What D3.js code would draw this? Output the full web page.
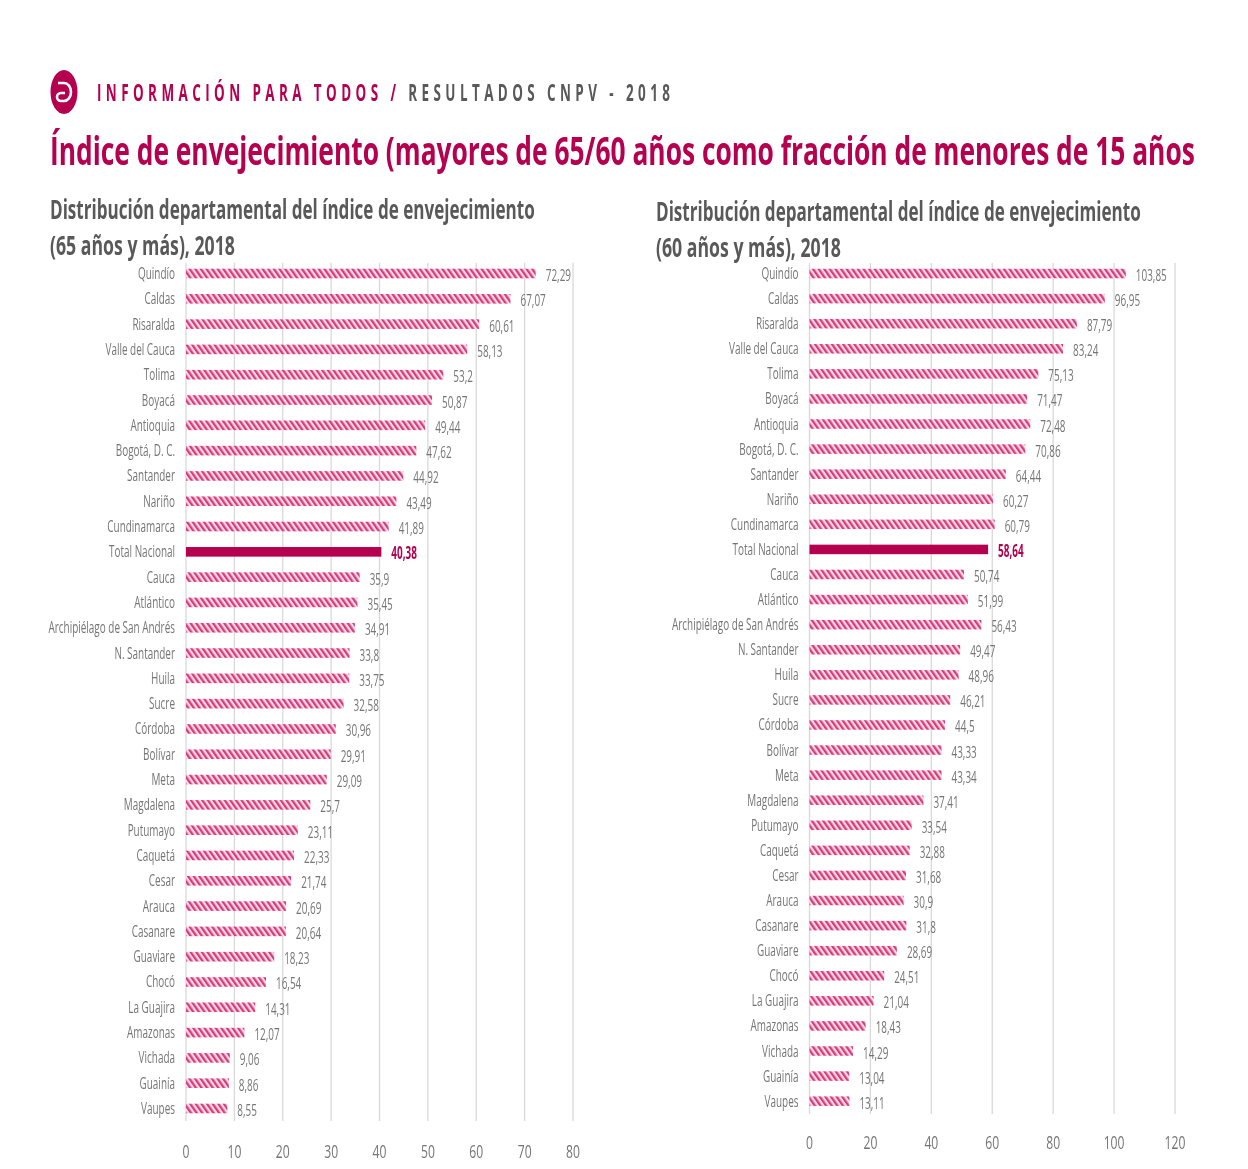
<!DOCTYPE html>
<html><head><meta charset="utf-8">
<script src="https://cdn.jsdelivr.net/npm/d3@7"></script>
<style>html,body{margin:0;padding:0;background:#fff}svg{display:block;filter:blur(0.5px)}text{font-family:"Open Sans",sans-serif}</style>
</head><body><svg id="c" width="1248" height="1169"></svg>
<script>
const categoriesLeft=["Quindío","Caldas","Risaralda","Valle del Cauca","Tolima","Boyacá","Antioquia","Bogotá, D. C.","Santander","Nariño","Cundinamarca","Total Nacional","Cauca","Atlántico","Archipiélago de San Andrés","N. Santander","Huila","Sucre","Córdoba","Bolívar","Meta","Magdalena","Putumayo","Caquetá","Cesar","Arauca","Casanare","Guaviare","Chocó","La Guajira","Amazonas","Vichada","Guainía","Vaupes"];
const values65=[72.29,67.07,60.61,58.13,53.2,50.87,49.44,47.62,44.92,43.49,41.89,40.38,35.9,35.45,34.91,33.8,33.75,32.58,30.96,29.91,29.09,25.7,23.11,22.33,21.74,20.69,20.64,18.23,16.54,14.31,12.07,9.06,8.86,8.55];
const values60=[103.85,96.95,87.79,83.24,75.13,71.47,72.48,70.86,64.44,60.27,60.79,58.64,50.74,51.99,56.43,49.47,48.96,46.21,44.5,43.33,43.34,37.41,33.54,32.88,31.68,30.9,31.8,28.69,24.51,21.04,18.43,14.29,13.04,13.11];
const ticksLeft=[0,10,20,30,40,50,60,70,80];
const ticksRight=[0,20,40,60,80,100,120];
const CRIMSON="#b5004f",GREY="#595959",LABEL="#757575";
const svg=d3.select("#c");
const defs=svg.append("defs");
const pat=defs.append("pattern").attr("id","hatch").attr("patternUnits","userSpaceOnUse").attr("width",4.6).attr("height",4.6).attr("patternTransform","rotate(-35)");
pat.append("rect").attr("width",4.6).attr("height",4.6).attr("fill","#f9dbe6");
pat.append("rect").attr("width",2.3).attr("height",4.6).attr("fill","#d83a7c");

function squeezed(g,x,y,str,opt){
  const sx=opt.sx||0.72;
  const t=g.append("text").attr("transform",`translate(${x},${y}) scale(${sx},1)`)
    .attr("text-anchor",opt.anchor||"start").attr("font-size",opt.size).attr("font-weight",opt.weight||400).attr("fill",opt.fill).text(str);
  if(opt.ls)t.attr("letter-spacing",opt.ls);
  return t;
}
// header
const logo=svg.append("g").attr("transform","translate(64,92)");
logo.append("ellipse").attr("rx",13.5).attr("ry",22).attr("fill",CRIMSON);
logo.append("path").attr("d","M-6,-9 H0 A7,9 0 0 1 0,9 H-3 A4,4 0 0 1 -3,1 H1").attr("fill","none").attr("stroke","#fff").attr("stroke-width",2.6);
const h=squeezed(svg,97,101,"INFORMACIÓN PARA TODOS / ",{size:24,weight:700,fill:CRIMSON,sx:0.56,ls:"7.9px"});
h.append("tspan").attr("fill",GREY).text("RESULTADOS CNPV - 2018");
squeezed(svg,50,165,"Índice de envejecimiento (mayores de 65/60 años como fracción de menores de 15 años",{size:40,weight:700,fill:CRIMSON,sx:0.659});
squeezed(svg,50,218.5,"Distribución departamental del índice de envejecimiento",{size:27,weight:700,fill:GREY,sx:0.632});
squeezed(svg,50,255,"(65 años y más), 2018",{size:27,weight:700,fill:GREY,sx:0.655});
squeezed(svg,656,220.5,"Distribución departamental del índice de envejecimiento",{size:27,weight:700,fill:GREY,sx:0.632});
squeezed(svg,656,257,"(60 años y más), 2018",{size:27,weight:700,fill:GREY,sx:0.655});

function panel(cfg){
  const x=d3.scaleLinear().domain(cfg.domain).range(cfg.xr);
  const y=d3.scaleBand().domain(categoriesLeft).range(cfg.yr).paddingInner(0.62).paddingOuter(0.31);
  const g=svg.append("g");
  g.selectAll("line.grid").data(cfg.ticks).join("line").attr("class","grid")
    .attr("x1",d=>x(d)).attr("x2",d=>x(d)).attr("y1",cfg.yr[0]+2).attr("y2",cfg.gridEnd).attr("stroke","#d9d9d9").attr("stroke-width",1.3);
  g.selectAll("rect.bar").data(cfg.values).join("rect").attr("class","bar")
    .attr("x",x(0)).attr("y",(d,i)=>y(categoriesLeft[i])).attr("width",d=>x(d)-x(0)).attr("height",y.bandwidth())
    .attr("fill",(d,i)=>categoriesLeft[i]==="Total Nacional"?CRIMSON:"url(#hatch)");
  categoriesLeft.forEach((c,i)=>{
    const cy=y(c)+y.bandwidth()/2, tot=c==="Total Nacional";
    squeezed(g,x(0)-11,cy+5.5,c,{size:17,fill:LABEL,anchor:"end",sx:0.585});
    squeezed(g,x(cfg.values[i])+10,cy+7.5,String(cfg.values[i]).replace(".",","),{size:17,fill:tot?CRIMSON:LABEL,weight:tot?700:400,sx:0.585});
  });
  cfg.ticks.forEach(t=>squeezed(g,x(t),cfg.tickY,String(t),{size:19,fill:LABEL,anchor:"middle",sx:0.64}));
}
panel({domain:[0,80],xr:[186,573],yr:[260.85,1121.15],gridEnd:1121,values:values65,ticks:ticksLeft,tickY:1158});
panel({domain:[0,120],xr:[809.5,1175],yr:[261,1113.7],gridEnd:1114,values:values60,ticks:ticksRight,tickY:1149});
</script></body></html>
